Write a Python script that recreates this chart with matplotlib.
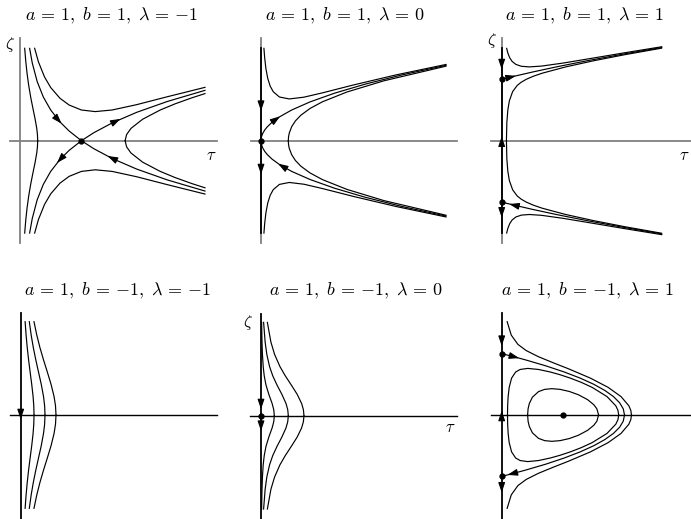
import numpy as np
import matplotlib.pyplot as plt

plt.rcParams['mathtext.fontset'] = 'cm'

# upper halves (zeta >= 0) of the trajectories; the lower halves are the mirror images
# panel 1: a=1, b=1, lambda=-1
p1_bulge_tau = [0.0764, 0.0933, 0.1145, 0.1417, 0.1758, 0.2158, 0.2467, 0.2728, 0.2840, 0.2880]
p1_bulge_zeta = [1.505, 1.3, 1.1, 0.9, 0.7, 0.5, 0.35, 0.2, 0.1, 0.0]
p1_right_tau = [1.712, 1.736, 1.807, 1.998, 2.284, 2.525, 2.804, 3.013]
p1_right_zeta = [0.0, 0.1, 0.2, 0.35, 0.5, 0.6, 0.7, 0.767]
p1_top_tau = [0.2385, 0.3, 0.4, 0.5, 0.65, 0.8, 1.0, 1.225, 1.5, 1.9, 2.4, 3.013]
p1_top_zeta = [1.505, 1.2845, 1.0368, 0.866, 0.692, 0.581, 0.5, 0.474, 0.5, 0.587, 0.716, 0.869]
p1_stable_tau = [0.157, 0.2, 0.28, 0.38, 0.5, 0.65, 0.8, 1.0]
p1_stable_zeta = [1.504, 1.265, 0.962, 0.711, 0.5, 0.307, 0.158, 0.0]
p1_unstable_tau = [1.0, 1.2, 1.5, 1.9, 2.4, 3.013]
p1_unstable_zeta = [0.0, 0.129, 0.289, 0.462, 0.639, 0.82]

# panel 2: a=1, b=1, lambda=0
p2_sep_tau = [0, 0.01, 0.03, 0.06, 0.1, 0.18, 0.3, 0.5, 0.8, 1.2, 1.7, 2.3, 3.013]
p2_sep_zeta = [0, 0.0707, 0.1225, 0.1732, 0.2236, 0.3, 0.3873, 0.5, 0.6325, 0.7746, 0.922, 1.0724, 1.2274]
p2_top_tau = [0.0478, 0.06, 0.08, 0.11, 0.15, 0.2, 0.3, 0.46, 0.7, 1.0, 1.5, 2.2, 3.013]
p2_top_zeta = [1.504, 1.3466, 1.1737, 1.0138, 0.8879, 0.7969, 0.7118, 0.6801, 0.7091, 0.7791, 0.9063, 1.0717, 1.2418]
p2_right_tau = [0.4446, 0.4485, 0.46, 0.5, 0.56, 0.65, 0.8, 1.0, 1.4, 2.0, 3.013]
p2_right_zeta = [0, 0.0632, 0.1233, 0.2289, 0.3218, 0.4159, 0.5258, 0.6334, 0.7934, 0.975, 1.214]

# panel 3: a=1, b=1, lambda=1
p3_top_tau = [0.081, 0.1, 0.13, 0.17, 0.23, 0.32, 0.45, 0.65, 1.0, 1.5, 2.0, 2.606]
p3_top_zeta = [1.5038, 1.428, 1.3512, 1.291, 1.243, 1.212, 1.202, 1.2154, 1.2645, 1.3476, 1.4316, 1.53]
p3_sep_tau = [0, 0.2, 0.5, 0.9, 1.4, 2.0, 2.606]
p3_sep_zeta = [1.0, 1.0488, 1.118, 1.2042, 1.3038, 1.4142, 1.5176]
p3_inner_tau = [0.077, 0.084, 0.1, 0.125, 0.1782, 0.2528, 0.3142, 0.4, 0.5154, 0.6618, 1.0346, 1.4876, 2.0, 2.6034]
p3_inner_zeta = [0, 0.3, 0.5, 0.65, 0.8, 0.9, 0.95, 1.0, 1.05, 1.1, 1.2, 1.3, 1.4, 1.507]

# panel 4: a=1, b=-1, lambda=-1
p4_zeta = [1.52, 1.3, 1.1, 0.9, 0.7, 0.5, 0.3, 0.15, 0]
p4_tau1 = [0.0719, 0.0880, 0.1063, 0.1283, 0.1535, 0.1795, 0.2019, 0.2130, 0.2170]
p4_tau2 = [0.1403, 0.1709, 0.2051, 0.2455, 0.2901, 0.3347, 0.3718, 0.3897, 0.3960]
p4_tau3 = [0.2165, 0.2624, 0.3128, 0.3710, 0.4337, 0.4944, 0.5436, 0.5669, 0.5750]

# panel 5: a=1, b=-1, lambda=0
p5_zeta = [1.52, 1.2, 1.0, 0.8, 0.65, 0.5, 0.35, 0.2, 0.1, 0]
p5_tau1 = [0.0102, 0.0163, 0.0233, 0.0358, 0.0525, 0.0811, 0.1267, 0.1807, 0.2073, 0.2170]
p5_tau2 = [0.0425, 0.0672, 0.0945, 0.1395, 0.1911, 0.2604, 0.3390, 0.4068, 0.4351, 0.4450]
p5_tau3 = [0.1037, 0.1611, 0.2207, 0.3085, 0.3951, 0.4933, 0.5881, 0.6611, 0.6901, 0.70]

# panel 6: a=1, b=-1, lambda=1
p6_sep_tau = [0, 0.195, 0.38, 0.72, 1.02, 1.28, 1.5, 1.68, 1.82, 1.92, 1.98, 2.0]
p6_sep_zeta = [1.0, 0.95, 0.9, 0.8, 0.7, 0.6, 0.5, 0.4, 0.3, 0.2, 0.1, 0]
p6_outer_tau = [0.0886, 0.1562, 0.264, 0.398, 0.597, 0.8405, 1.0943, 1.446, 1.7335, 1.9435, 2.0709, 2.1029, 2.1136]
p6_outer_zeta = [1.52, 1.3, 1.15, 1.05, 0.95, 0.85, 0.75, 0.6, 0.45, 0.3, 0.15, 0.075, 0]
p6_big_tau = [0.0945, 0.0969, 0.105, 0.1222, 0.1608, 0.227, 0.3, 0.4243, 0.6, 0.793, 0.95, 1.1192,
              1.3, 1.4728, 1.715, 1.8581, 1.8935, 1.9055]
p6_big_zeta = [0, 0.15, 0.3, 0.45, 0.6, 0.7, 0.7416, 0.7588, 0.7416, 0.7, 0.656, 0.6,
               0.5299, 0.45, 0.3, 0.15, 0.0756, 0]
p6_small_tau = [0.422, 0.43, 0.45, 0.5, 0.6, 0.7, 0.816, 0.95, 1.1, 1.25, 1.4, 1.5, 1.55, 1.578]
p6_small_zeta = [0, 0.103, 0.187, 0.29, 0.381, 0.4175, 0.4288, 0.4177, 0.3838, 0.3295, 0.2492, 0.1673, 0.101, 0]

# arrows: tau, zeta, direction
p1_arrows = [(0.63, 0.33, 1, -1.1), (1.575, 0.324, 1, 0.5), (0.65, -0.31, -1, -1.1), (1.49, -0.28, -1, 0.5)]
p2_arrows = [(0, 0.554, 0, -1), (0, -0.478, 0, -1), (0.255, 0.357, 1, 0.7), (0.337, -0.41, -1, 0.61)]
p3_arrows = [(0, 1.232, 0, -1), (0, 0.0, 0, 1), (0, -1.183, 0, -1), (0.163, 1.04, 1, 0.24), (0.19, -1.047, -1, 0.24)]
p4_arrows = [(0, 0.0, 0, -1)]
p5_arrows = [(0, 0.174, 0, -1), (0, -0.179, 0, -1)]
p6_arrows = [(0, 1.194, 0, -1), (0, 0.0, 0, 1), (0, -1.194, 0, -1), (0.217, 0.944, 1, -0.265), (0.163, -0.958, -1, -0.26)]

# equilibria
p1_points = [(1.0, 0.0)]
p2_points = [(0.0, 0.0)]
p3_points = [(0.0, 1.0), (0.0, -1.0)]
p5_points = [(0.0, 0.0)]
p6_points = [(0.0, 1.0), (0.0, -1.0), (1.0, 0.0)]

titles = [r'$a\,=\,1,\ b\,=\,1,\ \lambda\,=\,{-1}$', r'$a\,=\,1,\ b\,=\,1,\ \lambda\,=\,0$',
          r'$a\,=\,1,\ b\,=\,1,\ \lambda\,=\,1$', r'$a\,=\,1,\ b\,=\,{-1},\ \lambda\,=\,{-1}$',
          r'$a\,=\,1,\ b\,=\,{-1},\ \lambda\,=\,0$', r'$a\,=\,1,\ b\,=\,{-1},\ \lambda\,=\,1$']

W, H = 691, 519
S = 61.4  # pixels per unit
fig = plt.figure(figsize=(W / 100, H / 100), dpi=100)

origins = [(20, 140.7), (261, 140.7), (501.7, 140.7), (20.7, 415), (261, 415.7), (501.7, 415)]
h_right = [3.21, 3.19, 3.4, 3.19, 3.19, 3.4]
title_pos = [(111.7, 16), (345, 16), (585, 16), (118, 291), (356, 291), (588, 291)]
LW = 0.85


def panel(ox, oy):
    l, r, d = 25, 215, 112
    ax = fig.add_axes([(ox - l) / W, (H - oy - d) / H, (l + r) / W, 2 * d / H])
    ax.set_xlim(-l / S, r / S)
    ax.set_ylim(-d / S, d / S)
    ax.axis('off')
    return ax


def sym(ax, t, z):
    ax.plot(t, z, color='k', lw=LW)
    ax.plot(t, [-v for v in z], color='k', lw=LW)


def arrows(ax, lst):
    for t, z, dt, dz in lst:
        n = np.hypot(dt, dz)
        ux, uz = dt / n * 0.07, dz / n * 0.07
        ax.annotate('', xy=(t + ux, z + uz), xytext=(t - ux, z - uz),
                    arrowprops=dict(arrowstyle='-|>,head_length=0.5,head_width=0.17', color='k',
                                    lw=0.8, shrinkA=0, shrinkB=0, mutation_scale=12))


def dots(ax, lst):
    for t, z in lst:
        ax.plot(t, z, 'o', color='k', ms=3.5, zorder=5)


axes = [panel(ox, oy) for ox, oy in origins]
gray = '#808080'

# top row axes (gray)
for ax, hr in zip(axes[:3], h_right[:3]):
    ax.plot([-0.17, hr], [0, 0], color=gray, lw=1.3, zorder=0)
    ax.plot([0, 0], [-1.666, 1.67], color=gray, lw=1.3, zorder=0)
# bottom row axes (black)
for ax, hr in zip(axes[3:], h_right[3:]):
    ax.plot([-0.175, hr], [0, 0], color='k', lw=1.0, zorder=0)
    ax.plot([0, 0], [-1.7, 1.66], color='k', lw=1.3)
for ax in axes[1:3]:
    ax.plot([0, 0], [-1.505, 1.505], color='k', lw=1.3)

ax = axes[0]
for t, z in [(p1_bulge_tau, p1_bulge_zeta), (p1_right_tau, p1_right_zeta), (p1_top_tau, p1_top_zeta),
             (p1_stable_tau, p1_stable_zeta), (p1_unstable_tau, p1_unstable_zeta)]:
    sym(ax, t, z)
arrows(ax, p1_arrows)
dots(ax, p1_points)
ax.text(-0.16, 1.56, r'$\zeta$', fontsize=12, ha='center', va='center')
ax.text(3.11, -0.23, r'$\tau$', fontsize=12, ha='center', va='center')

ax = axes[1]
for t, z in [(p2_sep_tau, p2_sep_zeta), (p2_top_tau, p2_top_zeta), (p2_right_tau, p2_right_zeta)]:
    sym(ax, t, z)
arrows(ax, p2_arrows)
dots(ax, p2_points)

ax = axes[2]
for t, z in [(p3_top_tau, p3_top_zeta), (p3_sep_tau, p3_sep_zeta), (p3_inner_tau, p3_inner_zeta)]:
    sym(ax, t, z)
arrows(ax, p3_arrows)
dots(ax, p3_points)
ax.text(-0.16, 1.64, r'$\zeta$', fontsize=12, ha='center', va='center')
ax.text(2.98, -0.23, r'$\tau$', fontsize=12, ha='center', va='center')

ax = axes[3]
for t in [p4_tau1, p4_tau2, p4_tau3]:
    sym(ax, t, p4_zeta)
arrows(ax, p4_arrows)

ax = axes[4]
for t in [p5_tau1, p5_tau2, p5_tau3]:
    sym(ax, t, p5_zeta)
arrows(ax, p5_arrows)
dots(ax, p5_points)
ax.text(-0.21, 1.51, r'$\zeta$', fontsize=12, ha='center', va='center')
ax.text(3.08, -0.19, r'$\tau$', fontsize=12, ha='center', va='center')

ax = axes[5]
for t, z in [(p6_sep_tau, p6_sep_zeta), (p6_outer_tau, p6_outer_zeta), (p6_big_tau, p6_big_zeta),
             (p6_small_tau, p6_small_zeta)]:
    sym(ax, t, z)
arrows(ax, p6_arrows)
dots(ax, p6_points)

for (x, y), s in zip(title_pos, titles):
    fig.text(x / W, 1 - y / H, s, fontsize=13, ha='center', va='center')

fig.savefig('out.png', dpi=100)
